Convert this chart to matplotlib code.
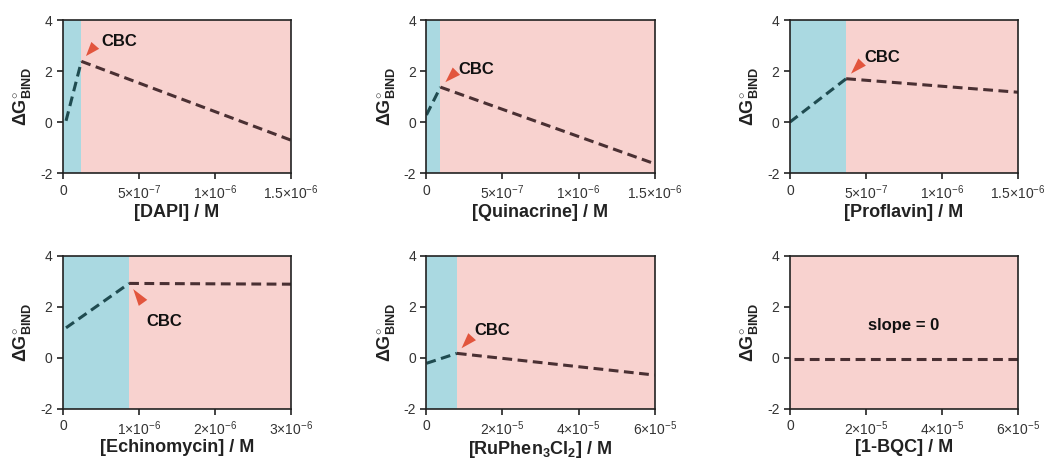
import matplotlib
matplotlib.use("Agg")
import matplotlib.pyplot as plt

plt.rcParams['font.family'] = ['Liberation Sans', 'DejaVu Sans']
plt.rcParams['mathtext.fontset'] = 'custom'
plt.rcParams['mathtext.rm'] = 'Liberation Sans'
plt.rcParams['mathtext.bf'] = 'Liberation Sans:bold'
plt.rcParams['axes.unicode_minus'] = False

# panel names (x axis labels)
xlabels = ['[DAPI] / M', '[Quinacrine] / M', '[Proflavin] / M',
           '[Echinomycin] / M', r'[RuPhen$_{\mathbf{3}}$Cl$_{\mathbf{2}}$] / M', '[1-BQC] / M']

# line points: start, CBC, end
line_x = [[2e-8, 1.21e-7, 1.5e-6],
          [0, 9.2e-8, 1.5e-6],
          [0, 3.7e-7, 1.5e-6],
          [4e-8, 8.7e-7, 3e-6],
          [0, 8.0e-6, 6e-5],
          [1e-6, 6e-5]]
line_y = [[0.05, 2.38, -0.71],
          [0.28, 1.37, -1.63],
          [0.0, 1.70, 1.17],
          [1.18, 2.92, 2.89],
          [-0.21, 0.18, -0.67],
          [-0.06, -0.06]]

# critical binding concentration (edge of blue region)
cbc = [1.21e-7, 9.2e-8, 3.7e-7, 8.7e-7, 8.0e-6, None]

# CBC label position (data coords) and arrow base offset from the CBC point (points)
cbc_text = [(2.5e-7, 3.0), (2.1e-7, 1.9), (4.9e-7, 2.35),
            (1.1e-6, 1.25), (1.26e-5, 0.9), None]
arrow_base = [(10, 11.5), (11.5, 11.5), (11.5, 12), (10, -14), (11, 12), None]

xmax = [1.5e-6, 1.5e-6, 1.5e-6, 3e-6, 6e-5, 6e-5]
xticks = [[0, 5e-7, 1e-6, 1.5e-6]] * 3 + [[0, 1e-6, 2e-6, 3e-6]] + [[0, 2e-5, 4e-5, 6e-5]] * 2
xticklabels = [['0', r'5×10$^{-7}$', r'1×10$^{-6}$', r'1.5×10$^{-6}$']] * 3 + \
              [['0', r'1×10$^{-6}$', r'2×10$^{-6}$', r'3×10$^{-6}$']] + \
              [['0', r'2×10$^{-5}$', r'4×10$^{-5}$', r'6×10$^{-5}$']] * 2

blue = '#aad9e1'
pink = '#f8d2cf'
teal_line = '#1f4b50'
brown_line = '#4a3033'
red = '#e2553d'

fig, axes = plt.subplots(2, 3, figsize=(10.48, 4.61), dpi=100)
fig.subplots_adjust(left=0.0601, right=0.9714, top=0.9566, bottom=0.1128,
                    wspace=0.593, hspace=0.54)

for i, ax in enumerate(axes.flat):
    ax.set_xlim(0, xmax[i])
    ax.set_ylim(-2, 4)
    if cbc[i] is not None:
        ax.axvspan(0, cbc[i], color=blue, lw=0, zorder=0)
        ax.axvspan(cbc[i], xmax[i], color=pink, lw=0, zorder=0)
        ax.plot(line_x[i][:2], line_y[i][:2], color=teal_line, lw=2.2,
                dashes=(3.2, 1.8), dash_capstyle='butt', zorder=2)
        ax.plot(line_x[i][1:], line_y[i][1:], color=brown_line, lw=2.2,
                dashes=(3.2, 1.8), dash_capstyle='butt', zorder=2)
        peak = (line_x[i][1], line_y[i][1])
        ax.annotate('', xy=peak, xytext=arrow_base[i], textcoords='offset points',
                    arrowprops=dict(arrowstyle='wedge,tail_width=0.75', color=red,
                                    lw=0, shrinkA=0, shrinkB=5))
        ax.text(cbc_text[i][0], cbc_text[i][1], 'CBC', fontsize=12,
                fontweight='bold', color='#111111')
    else:
        ax.axvspan(0, xmax[i], color=pink, lw=0, zorder=0)
        ax.plot(line_x[i], line_y[i], color=brown_line, lw=2.2,
                dashes=(3.2, 1.8), dash_capstyle='butt', zorder=2)
        ax.text(xmax[i] / 2, 1.26, 'slope = 0', fontsize=12, fontweight='bold',
                ha='center', va='center', color='#111111')

    ax.set_yticks([-2, 0, 2, 4])
    ax.set_xticks(xticks[i])
    ax.set_xticklabels(xticklabels[i])
    ax.tick_params(direction='out', length=4, width=1.2, labelsize=10,
                   colors='#222222', labelcolor='#333333')
    for s in ax.spines.values():
        s.set_linewidth(1.2)
        s.set_color('#222222')
    ax.set_xlabel(xlabels[i], fontsize=13, fontweight='bold', color='#222222', labelpad=1)
    ax.set_ylabel(r'ΔG$^{\circ}_{\mathbf{BIND}}$', fontsize=13, fontweight='bold',
                  color='#222222', labelpad=5)

fig.savefig('out.png', dpi=100)
